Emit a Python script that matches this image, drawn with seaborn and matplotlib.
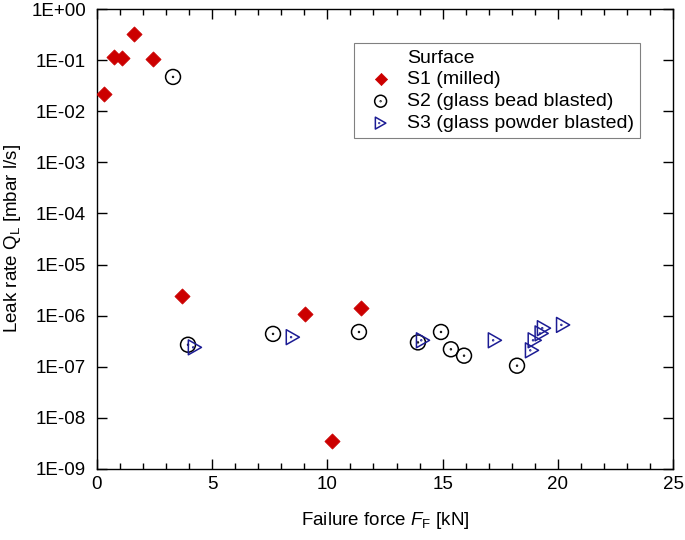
import pandas as pd
import matplotlib
matplotlib.use("Agg")
import matplotlib.pyplot as plt
from matplotlib.path import Path
from matplotlib.lines import Line2D
from matplotlib.ticker import MultipleLocator, FixedLocator, FuncFormatter, NullLocator
import seaborn as sns

# S1 (milled)
s1_force = [0.31, 0.74, 1.09, 1.61, 2.43, 3.69, 9.03, 10.2, 11.46]
s1_leak = [2.2e-2, 1.15e-1, 1.1e-1, 3.2e-1, 1.05e-1, 2.4e-6, 1.07e-6, 3.6e-9, 1.4e-6]

# S2 (glass bead blasted)
s2_force = [3.3, 3.95, 7.64, 11.37, 13.93, 14.93, 15.36, 15.93, 18.23]
s2_leak = [4.7e-2, 2.7e-7, 4.4e-7, 4.8e-7, 3.0e-7, 4.8e-7, 2.2e-7, 1.65e-7, 1.05e-7]

# S3 (glass powder blasted)
s3_force = [4.25, 8.5, 14.15, 17.27, 18.88, 19.0, 19.3, 19.4, 20.23]
s3_leak = [2.4e-7, 3.8e-7, 3.3e-7, 3.3e-7, 2.1e-7, 3.3e-7, 4.5e-7, 5.7e-7, 6.6e-7]

labels = ["S1 (milled)", "S2 (glass bead blasted)", "S3 (glass powder blasted)"]

df = pd.concat([
    pd.DataFrame({"force": s1_force, "leak": s1_leak, "surface": labels[0]}),
    pd.DataFrame({"force": s2_force, "leak": s2_leak, "surface": labels[1]}),
    pd.DataFrame({"force": s3_force, "leak": s3_leak, "surface": labels[2]}),
])

sns.set_style("ticks")
plt.rcParams["font.family"] = ["Liberation Sans", "DejaVu Sans"]
plt.rcParams["mathtext.fontset"] = "custom"
plt.rcParams["mathtext.rm"] = "Liberation Sans"
plt.rcParams["mathtext.it"] = "Liberation Sans:italic"
plt.rcParams["text.color"] = "black"
plt.rcParams["axes.labelcolor"] = "black"

fs = 13.5

# open markers with a small dot in the middle
circ_dot = Path.make_compound_path(Path.unit_circle(), Path.circle((0, 0), 0.06))
tri = Path([(-0.75, -0.85), (0.75, 0.0), (-0.75, 0.85), (-0.75, -0.85)],
           [Path.MOVETO, Path.LINETO, Path.LINETO, Path.CLOSEPOLY])
tri_dot = Path.make_compound_path(tri, Path.circle((-0.2, 0), 0.05))

red = "#cc0000"
navy = "#1c1c94"

fig = plt.figure(figsize=(6.85, 5.4), dpi=100)
ax = fig.add_axes([0.1416, 0.1315, 0.8409, 0.8517])

sns.scatterplot(data=df[df.surface == labels[0]], x="force", y="leak", marker="D",
                s=60, color=red, edgecolor=red, linewidth=0.5, label=labels[0], ax=ax, zorder=3)
sns.scatterplot(data=df[df.surface == labels[1]], x="force", y="leak", marker=circ_dot,
                s=115, color="black", facecolor="none", edgecolor="black", linewidth=1.1,
                label=labels[1], ax=ax, zorder=3)
sns.scatterplot(data=df[df.surface == labels[2]], x="force", y="leak", marker=tri_dot,
                s=115, color=navy, facecolor="none", edgecolor=navy, linewidth=1.1,
                label=labels[2], ax=ax, zorder=3)

ax.set_yscale("log")
ax.set_xlim(0, 25)
ax.set_ylim(1e-9, 1)
ax.xaxis.set_major_locator(MultipleLocator(5))
ax.xaxis.set_minor_locator(MultipleLocator(1))
ax.yaxis.set_major_locator(FixedLocator([10.0 ** k for k in range(-9, 1)]))
ax.yaxis.set_minor_locator(NullLocator())
ax.yaxis.set_major_formatter(FuncFormatter(lambda v, p: f"{v:.0E}"))

ax.tick_params(which="both", direction="in", top=True, right=True, labelsize=fs,
               color="black", labelcolor="black")
ax.tick_params(which="major", length=7, width=1)
ax.tick_params(which="minor", length=4, width=1)
ax.tick_params(axis="x", pad=5)
ax.tick_params(axis="y", pad=8)
for sp in ax.spines.values():
    sp.set_linewidth(1)
    sp.set_color("black")

ax.set_xlabel(r"Failure force $\mathit{F}_\mathrm{F}$ [kN]", fontsize=fs, labelpad=12)
ax.set_ylabel(r"Leak rate Q$_\mathrm{L}$ [mbar l/s]", fontsize=fs, labelpad=6)

# title as a row without handle so it lines up with the labels
handles, labs = ax.get_legend_handles_labels()
blank = Line2D([], [], linestyle="none", marker=None)
leg = ax.legend([blank] + handles, ["Surface"] + labs, loc="upper right",
                bbox_to_anchor=(0.943, 0.926), fontsize=14, frameon=True, fancybox=False,
                edgecolor="#808080", framealpha=1, handletextpad=0.3, markerscale=0.8,
                borderpad=0.3, labelspacing=0.22, handlelength=2.15, borderaxespad=0)
leg.get_frame().set_linewidth(0.8)

fig.savefig("out.png", dpi=100)
